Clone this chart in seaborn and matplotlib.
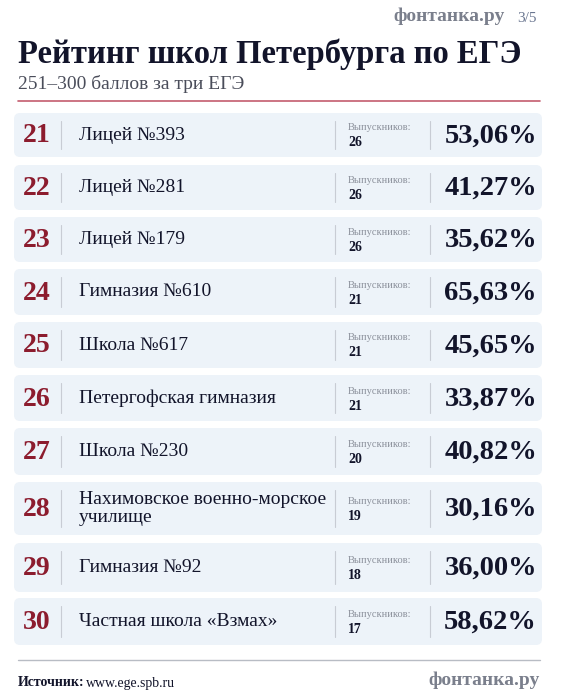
import matplotlib
matplotlib.use("Agg")
import matplotlib.pyplot as plt
from matplotlib.patches import FancyBboxPatch
import seaborn as sns

ranks = [21, 22, 23, 24, 25, 26, 27, 28, 29, 30]
schools = ["Лицей №393", "Лицей №281", "Лицей №179", "Гимназия №610", "Школа №617",
           "Петергофская гимназия", "Школа №230", "Нахимовское военно-морское\nучилище",
           "Гимназия №92", "Частная школа «Взмах»"]
graduates = [26, 26, 26, 21, 21, 21, 20, 19, 18, 17]
shares = ["53,06%", "41,27%", "35,62%", "65,63%", "45,65%",
          "33,87%", "40,82%", "30,16%", "36,00%", "58,62%"]
row_top = [113, 165, 217, 269, 322, 375, 428, 482, 543, 598]
row_bot = [157, 210, 262, 315, 368, 421, 475, 535, 592, 645]

sns.set_theme(style="white")
plt.rcParams["font.family"] = ["Liberation Serif", "DejaVu Serif"]

fig = plt.figure(figsize=(5.61, 7.0), dpi=100)
ax = fig.add_axes([0, 0, 1, 1])
ax.set_xlim(0, 561)
ax.set_ylim(700, 0)
ax.axis("off")

dark = "#12142a"
red = "#8c1c2e"
grey = "#8a8f9a"

ax.text(18, 54, "Рейтинг школ Петербурга по ЕГЭ", fontsize=23.5, fontweight="bold",
        color=dark, va="center", ha="left")
ax.text(18, 84, "251–300 баллов за три ЕГЭ", fontsize=14, color="#4a4d5a", va="center")
ax.text(537, 18, "3/5", fontsize=11, color="#6a7690", va="center", ha="right")
ax.text(505, 16, "фонтанка.ру", fontsize=14, color="#7a7f8c", va="center", ha="right",
        fontweight="bold")
ax.plot([18, 540], [101, 101], color="#c45c6e", lw=1.2)

for r, s, g, p, t, b in zip(ranks, schools, graduates, shares, row_top, row_bot):
    ax.add_patch(FancyBboxPatch((14, t), 528, b - t, boxstyle="round,pad=0,rounding_size=6",
                                fc="#edf3f9", ec="none"))
    c = (t + b) / 2
    ax.text(37, c + 1, str(r), fontsize=20, fontweight="bold", color=red, ha="center", va="center")
    ax.plot([61, 61], [t + 8, b - 8], color="#c8ccd4", lw=0.8)
    ax.text(79, c, s, fontsize=14, color=dark, va="center", linespacing=1.05)
    ax.plot([335, 335], [t + 8, b - 8], color="#c8ccd4", lw=0.8)
    ax.text(348, c - 7, "Выпускников:", fontsize=7.5, color=grey, va="center")
    ax.text(348, c + 8, str(g), fontsize=10, fontweight="bold", color=dark, va="center")
    ax.plot([430, 430], [t + 8, b - 8], color="#c8ccd4", lw=0.8)
    ax.text(537, c + 1, p, fontsize=20.5, fontweight="bold", color=dark, ha="right", va="center")

ax.plot([18, 540], [660, 660], color="#b8bcc4", lw=1)
ax.text(18, 683, "Источник:", fontsize=10, fontweight="bold", color=dark, va="center")
ax.text(86, 683, "www.ege.spb.ru", fontsize=10, color=dark, va="center")
ax.text(540, 680, "фонтанка.ру", fontsize=14, color="#7a7f8c", va="center", ha="right",
        fontweight="bold")

fig.savefig("out.png", dpi=100)
